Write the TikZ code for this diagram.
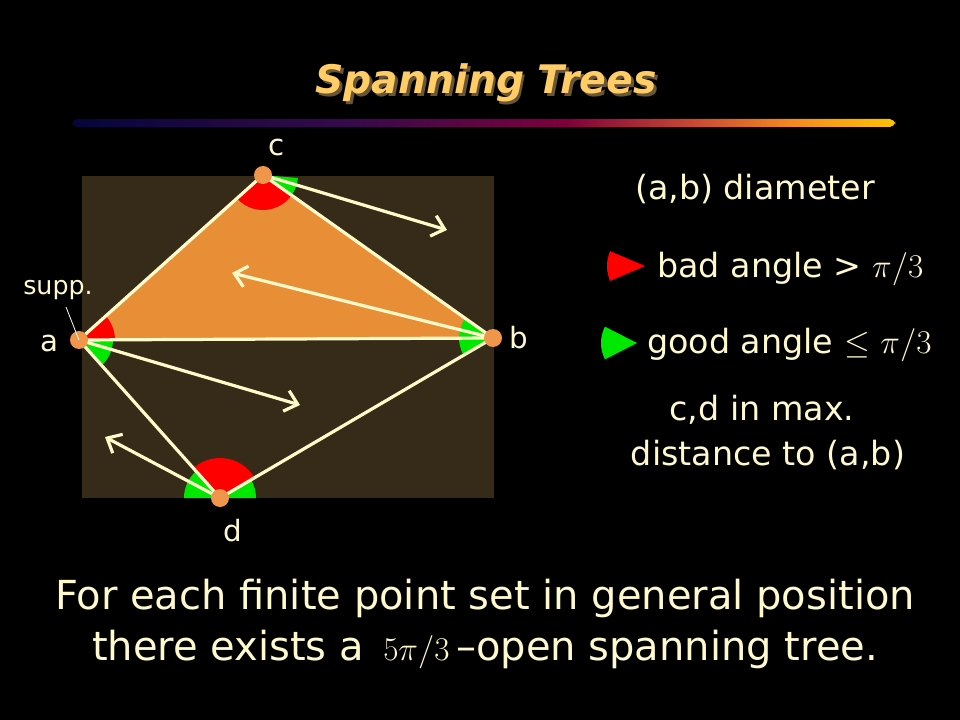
\documentclass[tikz,border=0pt]{standalone}
\usepackage[no-math]{fontspec}
\setmainfont{DejaVu Sans}
\usepackage{amsmath,amssymb}
\usetikzlibrary{arrows.meta}
\definecolor{box_brown}{RGB}{53,43,24}
\definecolor{tri_orange}{RGB}{232,142,55}
\definecolor{edge_cream}{RGB}{255,250,200}
\definecolor{dot_orange}{RGB}{240,150,75}
\definecolor{bad_red}{RGB}{255,0,0}
\definecolor{good_green}{RGB}{0,232,0}
\definecolor{title_yellow}{RGB}{255,204,102}
\definecolor{title_shadow}{RGB}{105,85,55}
\definecolor{text_cream}{RGB}{255,250,205}
\definecolor{bar_navy}{RGB}{5,5,60}
\definecolor{bar_purple}{RGB}{55,10,75}
\definecolor{bar_maroon}{RGB}{125,0,60}
\definecolor{bar_red}{RGB}{205,75,50}
\definecolor{bar_orange}{RGB}{245,140,30}
\definecolor{bar_yellow}{RGB}{255,195,0}
\pgfdeclarehorizontalshading{barshade}{100bp}{color(0bp)=(bar_navy); color(25bp)=(bar_navy);
  color(42bp)=(bar_purple); color(55bp)=(bar_maroon); color(63bp)=(bar_red);
  color(69bp)=(bar_orange); color(75bp)=(bar_yellow); color(100bp)=(bar_yellow)}

\begin{document}
\begin{tikzpicture}[x=0.75pt,y=-0.75pt,>={Straight Barb[length=9pt,width=16pt]}]
    \tikzstyle{ptdot}=[circle, fill=dot_orange, minimum size=13.5pt, inner sep=0pt]
    \tikzstyle{segline}=[draw=edge_cream, line width=2.4pt]
    \tikzstyle{dirline}=[->, draw=edge_cream, line width=2.4pt]
    \tikzstyle{lbl}=[text=text_cream, font=\fontsize{22}{26}\selectfont, anchor=base]
    \tikzstyle{txt}=[text=text_cream, font=\fontsize{25}{30}\selectfont, inner sep=0pt]
    \tikzstyle{big}=[text=text_cream, font=\fontsize{30}{36}\selectfont, anchor=base, inner sep=0pt]
    \tikzstyle{ttl}=[font=\fontsize{29.5}{34}\selectfont\bfseries\itshape, anchor=base, text=title_yellow]

    \fill[black] (0,0) rectangle (960,720);
    \useasboundingbox (0,0) rectangle (960,720);

    % title and bar
    \node[ttl] (ttl) at (486,94)
      {\makebox[0pt][l]{\hspace{2.2pt}\raisebox{-2.2pt}{\color{title_shadow}Spanning Trees}}Spanning Trees};
    \fill[shading=barshade, rounded corners=4] (72,119) rectangle (895,127);

    % point set
    \coordinate (a) at (79,340);
    \coordinate (b) at (493,338);
    \coordinate (c) at (263,175);
    \coordinate (d) at (220,498);
    \coordinate (ca) at (447,230);
    \coordinate (ba) at (232,273);
    \coordinate (aa) at (300,405);
    \coordinate (da) at (105,437);

    \fill[box_brown] (82,176) rectangle (494,498);
    \fill[tri_orange] (a) -- (c) -- (b) -- cycle;

    % angles
    \fill[bad_red]    (a) -- ++(-41.9:36) arc[start angle=-41.9, end angle=-0.3, radius=36] -- cycle;
    \fill[good_green] (a) -- ++(-0.3:34)  arc[start angle=-0.3, end angle=48.3, radius=34] -- cycle;
    \fill[bad_red]    (c) -- ++(35.3:35)  arc[start angle=35.3, end angle=138.1, radius=35] -- cycle;
    \fill[good_green] (c) -- ++(5:35)     arc[start angle=5, end angle=35.3, radius=35] -- cycle;
    \fill[good_green] (b) -- ++(149.6:34) arc[start angle=149.6, end angle=215.3, radius=34] -- cycle;
    \fill[bad_red]    (d) -- ++(228.3:40) arc[start angle=228.3, end angle=329.6, radius=40] -- cycle;
    \fill[good_green] (d) -- ++(180:36)   arc[start angle=180, end angle=228.3, radius=36] -- cycle;
    \fill[good_green] (d) -- ++(329.6:36) arc[start angle=329.6, end angle=360, radius=36] -- cycle;

    \path
     (a) edge[segline] (c)
     (c) edge[segline] (b)
     (a) edge[segline] (b)
     (a) edge[segline] (d)
     (d) edge[segline] (b)
     (c) edge[dirline] (ca)
     (b) edge[dirline] (ba)
     (a) edge[dirline] (aa)
     (d) edge[dirline] (da)
     ;

    \node[ptdot] (pa) at (a) {};
    \node[ptdot] (pb) at (b) {};
    \node[ptdot] (pc) at (c) {};
    \node[ptdot] (pd) at (d) {};

    \node[lbl] (la) at (49,351)  {a};
    \node[lbl] (lb) at (519,349) {b};
    \node[lbl] (lc) at (277,156) {c};
    \node[lbl] (ld) at (233,541) {d};
    \node[lbl, font=\fontsize{19}{22}\selectfont] (lsupp) at (58,295) {supp.};
    \coordinate (s1) at (66,307);
    \draw[white, line width=0.6pt] (s1) -- (pa.center);

    % legend
    \node[txt, anchor=base] (diam) at (755,200) {(a,b) diameter};
    \fill[bad_red]    (645,266) -- ++(157:38) arc[start angle=157, end angle=203, radius=38] -- cycle;
    \node[txt, anchor=base west] (bad)  at (657,277) {bad angle > $\pi/3$};
    \fill[good_green] (637,343) -- ++(153:36) arc[start angle=153, end angle=207, radius=36] -- cycle;
    \node[txt, anchor=base west] (good) at (647,353) {good angle $\leq$ $\pi/3$};
    \node[txt, anchor=base] (cd)   at (762,420) {c,d in max.};
    \node[txt, anchor=base] (dist) at (768,465) {distance to (a,b)};

    % statement
    \node[big] (st1) at (485,609) {For each finite point set in general position};
    \node[big] (st2) at (485,660) {there exists a \,$5\pi/3$\,–open spanning tree.};
  \end{tikzpicture}
\end{document}
